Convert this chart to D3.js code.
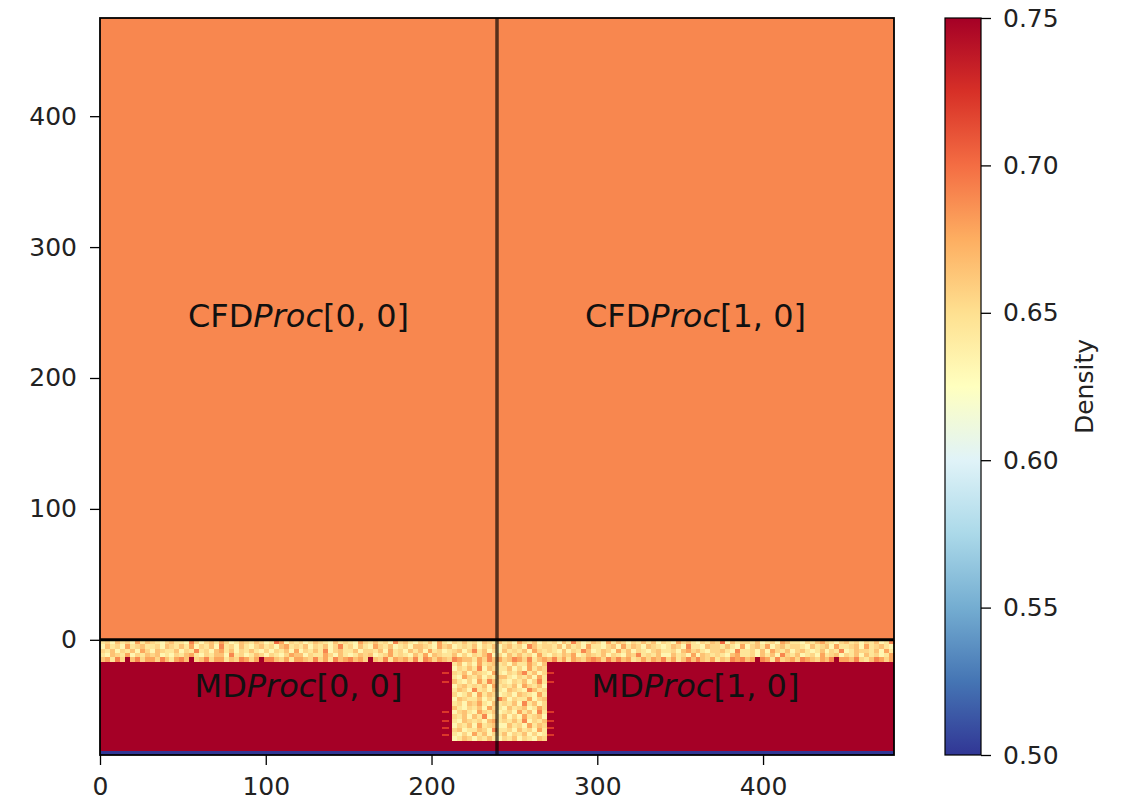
<!DOCTYPE html>
<html>
<head>
<meta charset="utf-8">
<script src="https://cdn.jsdelivr.net/npm/d3@7"></script>
<style>
  body { margin: 0; background: #fff; }
  text { font-family: "DejaVu Sans", sans-serif; }
</style>
</head>
<body>
<script>
// domain extents of the coupled box (MD below y=0, CFD above)
const xExtent = [0, 479];
const yExtent = [-88, 475];
const procSplitX = 239.5;

const xTicks = [0, 100, 200, 300, 400];
const yTicks = [0, 100, 200, 300, 400];
const cbarTicks = [0.50, 0.55, 0.60, 0.65, 0.70, 0.75];

// densities
const cfdDensity = 0.69;
const wallDensity = 0.76;
const baseDensity = 0.49;     // bottom wall row
const baseTop = -85.2;

// MD liquid cells, read row by row, char -> density level
const levelDensity = {"1": 0.632, "2": 0.645, "3": 0.655, "4": 0.665, "5": 0.678, "6": 0.69, "7": 0.70, "8": 0.712, "9": 0.76};
const cellCols = 160;
const cellH = 3.35;

const liquidRows = [
  "2314231524 3213422163 1342531243 2431275132 3124321423 2153242316 3421324152 1324231432 4231532413 2314263124 3152431324 2413215342 1324371423 3241231542 2132453213 4231324126",
  "1423152342 2314324251 3241623142 1342314523 2413241362 3142153241 2314432153 4123241324 1342316423 3241423152 2134152431 4321243162 2143324215 1342513423 3214234152 2341523421",
  "3241324153 1432241326 2314524132 4213132415 1324261342 2413324152 3142415231 2341362413 1423241532 3214132641 2431524132 1342231453 4213342162 2314153241 3421241326 1243324152",
  "2143251324 3412132452 1324416231 2431321354 4132253142 1243412352 3214251432 2413132461 3142423152 1324351243 2413214362 3241142315 1432321452 2314241632 4123152341 3241423125",
  "4526394635 5364256493 4635524365 3596643525 5436352645 6453943625 4536265354 3654425364 5346536245 4635254356 5364645235 3546352464 6435243656 4596526345 3654354695 5463246535"
];

// liquid filled channel between the two wall blocks
const channelCol0 = 71;
const channelRows = [
  "2413152342 314225314",
  "1324261432 241315243",
  "3241432152 132462413",
  "2153241324 421324152",
  "4213152643 213241362",
  "1342324152 324153241",
  "2431623142 143216423",
  "3124152431 231432152",
  "1432241326 413225134",
  "2314352142 324162413",
  "4213241532 142341253",
  "1342153241 231524162",
  "3241426132 413152341",
  "2143231452 324261324",
  "1324152341 142315243",
  "3412243162 231423152",
  "2131524132 413241312",
  "1243132421 324132143"
];

// tethered sites along the channel walls
const tetherY = [-25.2, -32.1, -55, -61.8, -67.2, -72.5];
const tetherX = [[206.3, 210.3], [269.7, 273.7]];
const tetherDensity = 0.722;

const labels = [
  {pre: "CFD", x: 119.75, y: 247, idx: "0, 0"},
  {pre: "CFD", x: 359.25, y: 247, idx: "1, 0"},
  {pre: "MD", x: 119.75, y: -35, idx: "0, 0"},
  {pre: "MD", x: 359.25, y: -35, idx: "1, 0"}
];

// RdYlBu reversed (low -> high)
const palette = ["#313695", "#4575b4", "#74add1", "#abd9e9", "#e0f3f8", "#ffffbf",
                 "#fee090", "#fdae61", "#f46d43", "#d73027", "#a50026"];
const vmin = 0.5, vmax = 0.75;

const width = 1125, height = 804;
const plot = {left: 100, right: 894, top: 18, bottom: 755};
const cbar = {left: 945, right: 981};

const svg = d3.select("body").append("svg")
  .attr("width", width)
  .attr("height", height);

const x = d3.scaleLinear().domain(xExtent).range([plot.left, plot.right]);
const y = d3.scaleLinear().domain(yExtent).range([plot.bottom, plot.top]);
const color = d3.scaleLinear()
  .domain(palette.map((_, i) => vmin + i * (vmax - vmin) / (palette.length - 1)))
  .range(palette)
  .clamp(true);

const cellW = (xExtent[1] - xExtent[0]) / cellCols;

const field = svg.append("g").attr("shape-rendering", "crispEdges");

const box = (x0, x1, y0, y1, v) => field.append("rect")
  .attr("x", x(x0)).attr("width", x(x1) - x(x0))
  .attr("y", y(y1)).attr("height", y(y0) - y(y1))
  .attr("fill", color(v));

// CFD region and MD wall background
box(xExtent[0], xExtent[1], 0, yExtent[1], cfdDensity);
box(xExtent[0], xExtent[1], yExtent[0], 0, wallDensity);
box(xExtent[0], xExtent[1], yExtent[0], baseTop, baseDensity);

// liquid cells
const cells = [];
liquidRows.forEach((row, r) => {
  row.replace(/ /g, "").split("").forEach((ch, c) => {
    cells.push({c, r, v: levelDensity[ch]});
  });
});
channelRows.forEach((row, r) => {
  row.replace(/ /g, "").split("").forEach((ch, c) => {
    cells.push({c: channelCol0 + c, r: liquidRows.length + r, v: levelDensity[ch]});
  });
});

field.selectAll("rect.cell")
  .data(cells)
  .join("rect")
  .attr("class", "cell")
  .attr("x", d => x(d.c * cellW))
  .attr("width", d => x((d.c + 1) * cellW) - x(d.c * cellW) + 0.5)
  .attr("y", d => y(-d.r * cellH))
  .attr("height", d => y(-(d.r + 1) * cellH) - y(-d.r * cellH) + 0.5)
  .attr("fill", d => color(d.v));

tetherX.forEach(([x0, x1]) => {
  tetherY.forEach(ty => box(x0, x1, ty - 0.8, ty + 0.8, tetherDensity));
});

// processor boundaries
svg.append("line")
  .attr("x1", x(xExtent[0])).attr("x2", x(xExtent[1]))
  .attr("y1", y(0)).attr("y2", y(0))
  .attr("stroke", "#000").attr("stroke-width", 3);
svg.append("line")
  .attr("x1", x(procSplitX)).attr("x2", x(procSplitX))
  .attr("y1", y(yExtent[0])).attr("y2", y(yExtent[1]))
  .attr("stroke", "#000").attr("stroke-opacity", 0.65).attr("stroke-width", 3.5);

// labels
labels.forEach(d => {
  const t = svg.append("text")
    .attr("x", x(d.x)).attr("y", y(d.y))
    .attr("text-anchor", "middle")
    .attr("dominant-baseline", "central")
    .attr("font-size", 32)
    .attr("fill", "#111");
  t.append("tspan").text(d.pre);
  t.append("tspan").attr("font-style", "italic").text("Proc");
  t.append("tspan").text("[" + d.idx + "]");
});

// frame
svg.append("rect")
  .attr("x", plot.left).attr("y", plot.top)
  .attr("width", plot.right - plot.left).attr("height", plot.bottom - plot.top)
  .attr("fill", "none").attr("stroke", "#000").attr("stroke-width", 1.8);

// axes
const styleAxis = g => {
  g.select(".domain").remove();
  g.selectAll(".tick line").attr("stroke", "#000").attr("stroke-width", 1.3);
  g.selectAll(".tick text").attr("font-size", 25).attr("fill", "#222")
    .attr("font-family", "DejaVu Sans");
};

svg.append("g")
  .attr("transform", `translate(0,${plot.bottom})`)
  .call(d3.axisBottom(x).tickValues(xTicks).tickSize(10).tickPadding(12))
  .call(styleAxis);

svg.append("g")
  .attr("transform", `translate(${plot.left},0)`)
  .call(d3.axisLeft(y).tickValues(yTicks).tickSize(10).tickPadding(13))
  .call(styleAxis);

// colorbar
const defs = svg.append("defs");
const grad = defs.append("linearGradient")
  .attr("id", "cbar").attr("x1", 0).attr("x2", 0).attr("y1", 1).attr("y2", 0);
palette.forEach((c, i) => grad.append("stop")
  .attr("offset", i / (palette.length - 1)).attr("stop-color", c));

const cy = d3.scaleLinear().domain([vmin, vmax]).range([plot.bottom, plot.top]);
svg.append("rect")
  .attr("x", cbar.left).attr("y", plot.top)
  .attr("width", cbar.right - cbar.left).attr("height", plot.bottom - plot.top)
  .attr("fill", "url(#cbar)").attr("stroke", "#000").attr("stroke-width", 1.2);

svg.append("g")
  .attr("transform", `translate(${cbar.right},0)`)
  .call(d3.axisRight(cy).tickValues(cbarTicks).tickFormat(d3.format(".2f")).tickSize(10).tickPadding(12))
  .call(styleAxis);

svg.append("text")
  .attr("transform", `translate(1084,${(plot.top + plot.bottom) / 2}) rotate(-90)`)
  .attr("text-anchor", "middle")
  .attr("dominant-baseline", "central")
  .attr("font-size", 25)
  .attr("fill", "#222")
  .text("Density");
</script>
</body>
</html>
